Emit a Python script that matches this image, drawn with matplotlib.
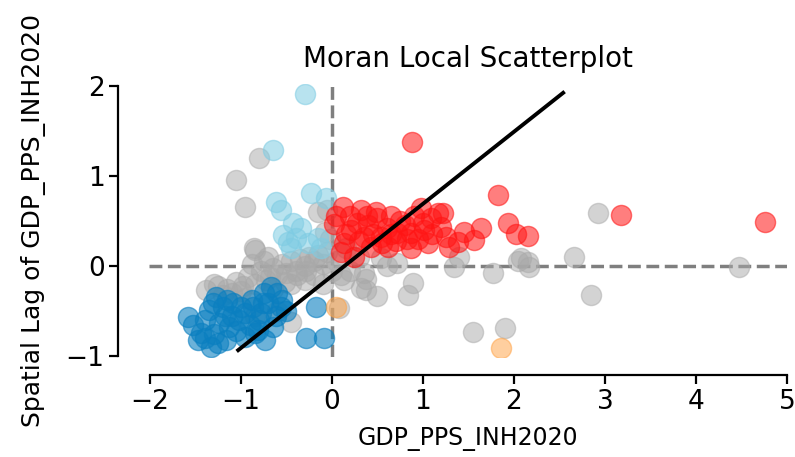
import numpy as np
import matplotlib.pyplot as plt

# valores (x = GDP_PPS_INH2020 estandarizado, y = retardo espacial)
ns_x = [-1.05, -0.80, -0.95, -0.86, -0.15, -0.05, -1.38, -1.25, -1.15, -1.05, -1.00, -0.92,
        -0.85, -0.78, -0.72, -0.65, -0.60, -0.55, -0.50, -0.45, -0.40, -0.35, -0.30, -0.25,
        -0.20, -0.15, -0.10, -0.05, -0.02, -0.08, -0.75, -0.88, -1.10, -1.20, -0.95, -0.65,
        -0.45, -0.30, -0.20, -0.45, -0.85, -0.60, -0.10, 0.00, 0.05, 0.10, 0.13, 0.20,
        0.32, 0.35, 0.37, 0.37, 0.50, 0.72, 0.54, 0.84, 0.89, 0.08, 0.30, 0.15,
        0.60, 1.34, 1.40, 1.77, 2.04, 2.08, 2.15, 2.16, 2.66, 2.85, 2.92, 4.47,
        1.55, 1.90, -0.84, -0.70, -1.30, -0.98, -0.68, -0.38, -0.52, -0.28]
ns_y = [0.96, 1.20, 0.66, 0.20, 0.60, 0.62, -0.27, -0.22, -0.25, -0.18, -0.28, -0.12,
        -0.20, -0.05, -0.15, -0.02, -0.10, 0.02, -0.08, 0.05, -0.05, 0.08, 0.00, 0.10,
        0.05, 0.12, 0.02, 0.15, 0.30, 0.38, 0.05, 0.02, -0.30, -0.32, -0.35, -0.25,
        -0.20, -0.15, -0.10, -0.62, -0.55, -0.50, -0.20, -0.05, 0.05, -0.10, -0.16, -0.05,
        -0.24, -0.08, -0.14, -0.27, -0.33, 0.03, 0.09, -0.32, -0.19, -0.47, 0.10, 0.20,
        0.00, -0.01, 0.10, -0.08, 0.05, 0.09, 0.04, -0.01, 0.10, -0.32, 0.59, -0.01,
        -0.73, -0.69, 0.18, 0.10, -0.20, -0.22, -0.12, -0.10, -0.18, -0.05]

hh_x = [0.88, 1.82, 3.18, 4.76, 1.93, 2.02, 2.15, 1.22, 1.64, 1.45, 1.56, 1.25,
        1.29, 1.38, 1.09, 0.12, 0.32, 0.50, 0.65, 0.98, 1.16, 0.02, 0.21, 0.35,
        0.54, 0.72, 0.87, 1.01, 1.20, 0.62, 0.87, 1.05, 0.43, 0.13, 0.24, 0.20,
        0.40, 0.60, 0.80, 0.90, 0.30, 0.45, 0.70, 0.95, 1.10, 0.15, 0.28, 0.55,
        0.75, 0.05, 0.10, 0.65, 0.83, 1.00, 0.38, 0.48]
hh_y = [1.38, 0.79, 0.57, 0.49, 0.48, 0.35, 0.33, 0.59, 0.42, 0.38, 0.29, 0.32,
        0.21, 0.27, 0.53, 0.66, 0.62, 0.53, 0.55, 0.64, 0.59, 0.47, 0.40, 0.32,
        0.32, 0.37, 0.37, 0.40, 0.43, 0.21, 0.20, 0.26, 0.21, 0.26, 0.10, 0.55,
        0.45, 0.42, 0.45, 0.55, 0.28, 0.35, 0.28, 0.30, 0.35, 0.35, 0.48, 0.25,
        0.50, 0.55, 0.15, 0.35, 0.30, 0.48, 0.55, 0.60]

lh_x = [-0.30, -0.65, -0.62, -0.56, -0.23, -0.07, -0.43, -0.34, -0.54, -0.48,
        -0.26, -0.40, -0.15, -0.12, -0.45]
lh_y = [1.91, 1.29, 0.71, 0.62, 0.81, 0.76, 0.48, 0.42, 0.34, 0.27,
        0.26, 0.31, 0.31, 0.20, 0.20]

ll_x = [-1.58, -1.53, -1.44, -1.47, -1.33, -1.25, -1.16, -1.31, -1.20, -1.09, -1.35, -1.24,
        -1.13, -1.02, -0.95, -0.87, -0.76, -0.80, -0.95, -0.84, -0.73, -0.65, -1.27, -0.67,
        -0.60, -0.70, -0.56, -0.78, -0.18, -0.29, -0.09, -0.81, -1.40, -1.30, -1.10, -1.00,
        -0.90, -1.05, -1.18, -0.62, -0.55, -0.50, -1.40, -0.88, -0.75, -1.15]
ll_y = [-0.57, -0.66, -0.74, -0.82, -0.90, -0.86, -0.82, -0.41, -0.46, -0.41, -0.49, -0.63,
        -0.68, -0.60, -0.52, -0.46, -0.41, -0.60, -0.79, -0.74, -0.82, -0.68, -0.34, -0.23,
        -0.30, -0.41, -0.46, -0.52, -0.46, -0.80, -0.80, -0.71, -0.60, -0.75, -0.55, -0.45,
        -0.65, -0.72, -0.55, -0.55, -0.38, -0.50, -0.80, -0.38, -0.30, -0.38]

hl_x = [0.04, 1.86]
hl_y = [-0.46, -0.91]

# recta de ajuste (pendiente = I de Moran)
pendiente = 0.80
intercepto = -0.11
recta_x = [-1.03, 2.54]

plt.rcParams['font.family'] = 'DejaVu Sans'
fig = plt.figure(figsize=(7.95, 4.57), dpi=100)
ax = fig.add_axes([0.1874, 0.2188, 0.8026, 0.5974])

s = 210
ax.scatter(ns_x, ns_y, s=s, color='#a9a9a9', alpha=0.5, zorder=2)
ax.scatter(ll_x, ll_y, s=s, color='#0a7fc0', alpha=0.6, zorder=3)
ax.scatter(lh_x, lh_y, s=s, color='#7fcce3', alpha=0.55, zorder=3)
ax.scatter(hh_x, hh_y, s=s, color='#ff1414', alpha=0.55, zorder=3)
ax.scatter(hl_x, hl_y, s=s, color='#ffa040', alpha=0.5, zorder=3)

rx = np.array(recta_x)
ax.plot(rx, intercepto + pendiente * rx, color='black', linewidth=2.8, zorder=4)

ax.axvline(0, color='k', alpha=0.5, linestyle='--', linewidth=2.5, zorder=1)
ax.axhline(0, color='k', alpha=0.5, linestyle='--', linewidth=2.5, zorder=1)

ax.set_xlim(-2.01, 5.0)
ax.set_ylim(-1.01, 2.02)

ax.spines['top'].set_visible(False)
ax.spines['right'].set_visible(False)
ax.spines['left'].set_position(('outward', 22))
ax.spines['bottom'].set_position(('outward', 13))
ax.spines['left'].set_bounds(-1, 2)
ax.spines['bottom'].set_bounds(-2, 5)
ax.spines['left'].set_linewidth(1.6)
ax.spines['bottom'].set_linewidth(1.6)

ax.set_xticks([-2, -1, 0, 1, 2, 3, 4, 5])
ax.set_yticks([-1, 0, 1, 2])
ax.tick_params(labelsize=19, length=6.5, width=1.6)

ax.set_title("Moran Local Scatterplot", fontsize=20, pad=12)
ax.set_xlabel("GDP_PPS_INH2020", fontsize=17, labelpad=9)
ax.set_ylabel("Spatial Lag of GDP_PPS_INH2020", fontsize=18, labelpad=14)

plt.savefig("out.png", dpi=100)
plt.close()
